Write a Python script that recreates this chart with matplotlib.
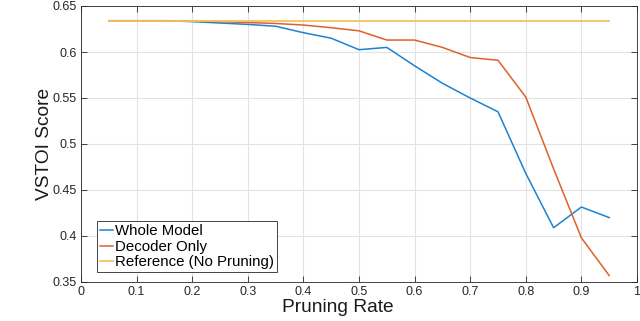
import numpy as np
import matplotlib.pyplot as plt

plt.rcParams['font.family'] = ['Liberation Sans', 'DejaVu Sans']

rates = [0.05, 0.1, 0.15, 0.2, 0.25, 0.3, 0.35, 0.4, 0.45, 0.5,
         0.55, 0.6, 0.65, 0.7, 0.75, 0.8, 0.85, 0.9, 0.95]
whole_model = [0.634, 0.634, 0.634, 0.633, 0.6315, 0.630, 0.628, 0.621, 0.615, 0.6025,
               0.605, 0.585, 0.566, 0.550, 0.535, 0.468, 0.409, 0.4315, 0.420]
decoder_only = [0.634, 0.634, 0.634, 0.634, 0.633, 0.632, 0.631, 0.6293, 0.6264, 0.623,
                0.613, 0.613, 0.605, 0.594, 0.591, 0.551, 0.473, 0.398, 0.357]
reference = 0.634

fig = plt.figure(figsize=(6.4, 3.21), dpi=100)
ax = fig.add_axes([81 / 640, 1 - 282 / 321, (637 - 81) / 640, (282 - 6) / 321])

ax.plot(rates, whole_model, color='#1f82cf', lw=1.1, label='Whole Model')
ax.plot(rates, decoder_only, color='#e0602a', lw=1.1, label='Decoder Only')
ax.plot([rates[0], rates[-1]], [reference, reference], color='#f2c25e', lw=1.3,
        label='Reference (No Pruning)')

ax.set_xlim(0, 1)
ax.set_ylim(0.35, 0.65)
ax.set_xticks(np.arange(0, 1.01, 0.1))
ax.set_xticklabels(['0', '0.1', '0.2', '0.3', '0.4', '0.5', '0.6', '0.7', '0.8', '0.9', '1'])
ax.set_yticks([0.35, 0.4, 0.45, 0.5, 0.55, 0.6, 0.65])
ax.set_yticklabels(['0.35', '0.4', '0.45', '0.5', '0.55', '0.6', '0.65'])
ax.tick_params(direction='in', top=True, right=True, labelsize=9, length=4,
               width=0.6, colors='#262626', pad=3)
ax.grid(True, color='#e3e3e3', lw=0.8)
ax.set_axisbelow(True)
for s in ax.spines.values():
    s.set_color('#262626')
    s.set_linewidth(0.6)

ax.set_xlabel('Pruning Rate', fontsize=13.8, color='#1a1a1a')
ax.xaxis.set_label_coords(0.461, -0.062)
ax.xaxis.label.set_va('top')
ax.set_ylabel('VSTOI Score', fontsize=13.8, labelpad=0, color='#1a1a1a')

leg = ax.legend(loc='lower left', bbox_to_anchor=(0.028, 0.035), fontsize=10.8,
                handlelength=0.9, handletextpad=0.15, borderpad=0.2,
                labelspacing=0.1, fancybox=False, framealpha=1, borderaxespad=0)
leg.get_frame().set_edgecolor('#262626')
leg.get_frame().set_linewidth(0.6)

fig.savefig('out.png', dpi=100)
